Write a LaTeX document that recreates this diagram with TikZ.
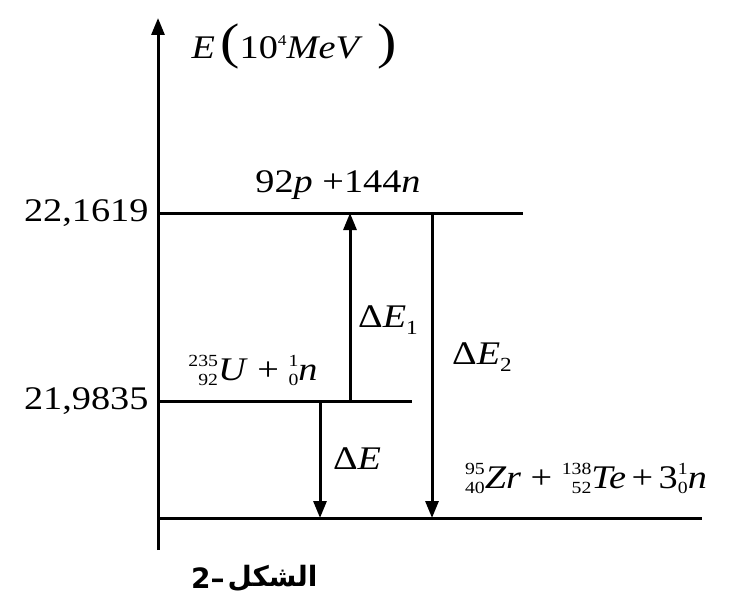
\documentclass[tikz,border=0pt]{standalone}
\usepackage{fontspec}
\setmainfont{Liberation Serif}[FakeStretch=1.16]
\newfontfamily\arabicfont[Script=Arabic]{DejaVu Sans}
\newfontfamily\capfont{DejaVu Sans}
\TeXXeTstate=1
\usetikzlibrary{arrows.meta}
\newcommand\iso[3]{\raisebox{14pt}{\fontsize{17}{19}\selectfont
  \begin{tabular}[t]{@{}r@{}}#1\\#2\end{tabular}}\textit{#3}}
\newcommand\dE[1]{Δ\textit{E}\raisebox{-7pt}{\fontsize{20}{20}\selectfont #1}}
\begin{document}
\begin{tikzpicture}[x=1pt,y=-1pt,line width=3pt,
  every node/.style={inner sep=0pt,font=\fontsize{33}{38}\selectfont},
  tip/.style={-{Triangle[length=17pt,width=13pt]}}]
\useasboundingbox (0,0) rectangle (729,602);
% axis and levels
\coordinate (ax0) at (158,550);
\coordinate (ax1) at (158,18);
\coordinate (l1a) at (158,213);
\coordinate (l1b) at (523,213);
\coordinate (l2a) at (158,401);
\coordinate (l2b) at (412,401);
\coordinate (l3a) at (158,518);
\coordinate (l3b) at (702,518);
\draw[tip] (ax0) -- (ax1);
\draw (l1a) -- (l1b);
\draw (l2a) -- (l2b);
\draw (l3a) -- (l3b);
% transitions
\coordinate (e1a) at (350,401);
\coordinate (e1b) at (350,213);
\coordinate (e2a) at (432,213);
\coordinate (e2b) at (432,518);
\coordinate (e0a) at (320,401);
\coordinate (e0b) at (320,518);
\draw[tip] (e1a) -- (e1b);
\draw[tip] (e2a) -- (e2b);
\draw[tip] (e0a) -- (e0b);
% labels
\node (axlab) [anchor=west] at (190,46) {\textit{E}\,{\fontsize{50}{50}\selectfont(}10\raisebox{13pt}{\fontsize{15}{15}\selectfont 4}\textit{MeV}\;\,{\fontsize{50}{50}\selectfont)}};
\node (v1) [anchor=east] at (150,213) {22,1619};
\node (v2) [anchor=east] at (150,401) {21,9835};
\node (top) at (338,185) {92\textit{p} +144\textit{n}};
\node (mid) at (253,372) {\iso{235}{92}{U} + \iso{1}{0}{n}};
\node (bot) at (586,480) {\iso{95}{40}{Zr} + \iso{138}{52}{Te}\,+\,3\iso{1}{0}{n}};
\node (d1) at (388,320) {\dE{1}};
\node (d2) at (482,357) {\dE{2}};
\node (d0) at (357,462) {\dE{}};
\node (cap) [anchor=west] at (226,578) {\arabicfont\bfseries\fontsize{28}{32}\selectfont\beginR الشكل\endR};
\node (capnum) [anchor=east] at (cap.west) {\capfont\bfseries\fontsize{28}{32}\selectfont 2\textendash};
\end{tikzpicture}
\end{document}
